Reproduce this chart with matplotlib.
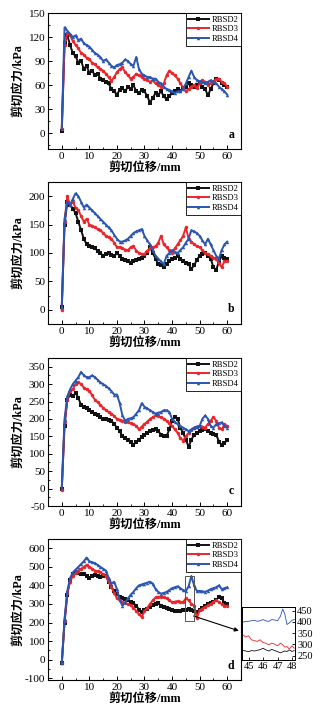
import numpy as np
import matplotlib
matplotlib.use("Agg")
import matplotlib.pyplot as plt
from matplotlib.patches import Rectangle
from matplotlib.ticker import MultipleLocator

plt.rcParams['font.family'] = ['Liberation Serif', 'Noto Sans CJK SC']
plt.rcParams['axes.unicode_minus'] = False

# shear displacement, mm
disp = list(range(0, 61))

# (a)
a_rbsd2 = [3, 112, 122, 110, 100, 96, 88, 90, 80, 84, 75, 78, 72, 74, 68, 66, 64, 62, 55, 52,
           48, 54, 56, 52, 58, 55, 60, 52, 50, 54, 52, 46, 38, 44, 50, 48, 52, 46, 42, 46,
           50, 52, 55, 52, 56, 58, 62, 60, 57, 60, 62, 58, 55, 47, 55, 62, 68, 66, 63, 60, 58]
a_rbsd3 = [5, 110, 125, 122, 115, 110, 106, 100, 98, 94, 92, 88, 86, 82, 80, 78, 74, 70, 65, 70,
           76, 80, 82, 76, 72, 68, 70, 74, 72, 70, 68, 66, 64, 66, 62, 60, 58, 62, 72, 78,
           75, 72, 68, 62, 57, 52, 55, 58, 60, 56, 62, 66, 64, 60, 62, 65, 67, 68, 64, 62, 58]
a_rbsd4 = [6, 132, 128, 124, 120, 122, 116, 118, 112, 110, 108, 104, 100, 98, 95, 90, 92, 88, 84, 82,
           85, 86, 88, 92, 90, 86, 84, 95, 80, 74, 72, 70, 70, 68, 68, 64, 62, 58, 55, 54,
           52, 50, 52, 52, 55, 62, 70, 78, 70, 66, 65, 64, 62, 64, 66, 64, 62, 58, 55, 52, 48]

# (b)
b_rbsd2 = [5, 150, 190, 185, 178, 170, 155, 140, 125, 115, 112, 110, 108, 104, 100, 95, 98, 100, 96, 94,
           100, 95, 90, 88, 85, 82, 86, 88, 90, 92, 95, 100, 110, 100, 90, 80, 78, 75, 80, 85,
           90, 92, 95, 90, 85, 82, 80, 72, 78, 88, 95, 98, 100, 95, 90, 75, 70, 85, 95, 92, 90]
b_rbsd3 = [0, 155, 200, 185, 190, 180, 175, 165, 155, 160, 150, 148, 145, 142, 140, 135, 130, 128, 125, 118,
           110, 110, 108, 106, 105, 110, 112, 104, 100, 98, 98, 104, 108, 110, 112, 118, 130, 115, 110, 105,
           100, 108, 115, 122, 130, 145, 125, 120, 115, 112, 110, 105, 100, 98, 95, 92, 90, 82, 75, 85, 85]
b_rbsd4 = [5, 160, 190, 185, 195, 205, 200, 190, 180, 185, 180, 175, 170, 165, 160, 155, 150, 145, 140, 132,
           125, 120, 120, 122, 125, 130, 135, 138, 140, 142, 130, 122, 115, 105, 95, 90, 85, 80, 95, 100,
           105, 102, 100, 105, 110, 118, 125, 140, 138, 135, 130, 122, 115, 125, 115, 105, 95, 90, 105, 115, 120]

# (c)
c_rbsd2 = [0, 180, 255, 270, 265, 275, 260, 240, 235, 230, 225, 220, 215, 210, 205, 200, 200, 198, 195, 185,
           175, 165, 150, 145, 140, 135, 125, 135, 140, 148, 155, 160, 165, 168, 170, 165, 155, 150, 150, 170,
           195, 205, 200, 175, 160, 140, 120, 140, 155, 160, 165, 168, 170, 165, 160, 158, 155, 135, 125, 130, 140]
c_rbsd3 = [-3, 190, 255, 280, 285, 300, 305, 300, 290, 285, 280, 268, 255, 248, 240, 232, 225, 220, 215, 208,
           200, 198, 195, 192, 190, 188, 185, 180, 170, 178, 185, 192, 200, 205, 210, 208, 205, 200, 195, 188,
           180, 170, 160, 145, 138, 150, 160, 168, 175, 178, 180, 178, 175, 185, 195, 205, 195, 175, 170, 185, 180]
c_rbsd4 = [3, 200, 265, 285, 300, 310, 320, 335, 325, 320, 320, 325, 320, 312, 305, 300, 295, 288, 280, 270,
           270, 245, 210, 195, 200, 202, 205, 215, 225, 245, 235, 230, 225, 220, 215, 218, 220, 225, 225, 220,
           200, 192, 185, 180, 175, 170, 165, 170, 175, 178, 180, 200, 210, 200, 180, 175, 185, 188, 190, 180, 175]

# (d)
d_rbsd2 = [-20, 200, 350, 430, 460, 470, 465, 462, 460, 450, 440, 448, 455, 450, 445, 448, 450, 420, 390, 370,
           355, 340, 330, 325, 320, 312, 305, 290, 270, 255, 265, 275, 285, 292, 300, 305, 290, 285, 280, 272,
           265, 262, 260, 262, 265, 270, 275, 265, 260, 255, 270, 280, 290, 298, 305, 312, 320, 340, 330, 305, 300]
d_rbsd3 = [-20, 210, 360, 420, 450, 465, 480, 490, 500, 510, 500, 490, 480, 475, 470, 460, 450, 420, 390, 360,
           330, 320, 310, 305, 300, 292, 280, 262, 245, 230, 260, 280, 300, 320, 335, 338, 340, 335, 330, 320,
           310, 312, 315, 312, 310, 330, 320, 300, 290, 225, 265, 275, 285, 292, 300, 310, 320, 310, 300, 290, 290]
d_rbsd4 = [-20, 220, 370, 440, 470, 485, 500, 515, 530, 550, 530, 525, 520, 510, 500, 490, 480, 440, 410, 420,
           380, 320, 290, 310, 330, 350, 365, 385, 400, 405, 410, 415, 420, 410, 380, 365, 355, 360, 365, 375,
           385, 390, 395, 385, 375, 370, 395, 450, 400, 370, 370, 368, 365, 372, 380, 385, 390, 400, 380, 385, 390]

# zoomed window of (d), 44.6-48.2 mm
zoom_x = [44.6, 44.8, 45.0, 45.2, 45.4, 45.6, 45.8, 46.0, 46.2, 46.4,
          46.6, 46.8, 47.0, 47.2, 47.35, 47.5, 47.65, 47.8, 48.0, 48.15]
zoom_rbsd2 = [273, 270, 267, 272, 270, 273, 276, 282, 275, 270, 277, 272, 267, 262, 266, 270, 268, 275, 268, 272]
zoom_rbsd3 = [343, 332, 338, 320, 316, 313, 320, 308, 304, 298, 305, 300, 293, 305, 298, 287, 290, 279, 293, 282]
zoom_rbsd4 = [398, 402, 402, 405, 407, 402, 405, 410, 404, 402, 410, 408, 405, 425, 457, 433, 388, 395, 407, 410]

names = ['RBSD2', 'RBSD3', 'RBSD4']
colors = ['#111111', '#e8262b', '#2a55b0']
markers = ['s', 'o', '^']

panels = [
    ('a', [a_rbsd2, a_rbsd3, a_rbsd4], (-20, 150), 30, [0.1459, 0.7895, 0.5866, 0.1921]),
    ('b', [b_rbsd2, b_rbsd3, b_rbsd4], (-25, 225), 50, [0.1459, 0.5424, 0.5866, 0.2006]),
    ('c', [c_rbsd2, c_rbsd3, c_rbsd4], (-50, 375), 50, [0.1459, 0.2853, 0.5866, 0.2091]),
    ('d', [d_rbsd2, d_rbsd3, d_rbsd4], (-110, 650), 100, [0.1459, 0.0395, 0.5866, 0.1992]),
]

fig = plt.figure(figsize=(3.29, 7.08), dpi=100)

axes = []
for tag, series, ylim, ystep, rect in panels:
    ax = fig.add_axes(rect)
    for vals, name, col, mk in zip(series, names, colors, markers):
        ax.plot(disp, vals, color=col, lw=1.4, marker=mk, ms=2.5, mew=0, label=name)
    ax.set_xlim(-5, 65)
    ax.set_ylim(*ylim)
    ax.xaxis.set_major_locator(MultipleLocator(10))
    ax.xaxis.set_minor_locator(MultipleLocator(5))
    ax.yaxis.set_major_locator(MultipleLocator(ystep))
    ax.yaxis.set_minor_locator(MultipleLocator(ystep / 2))
    ax.tick_params(which='both', direction='in', labelsize=8, pad=2)
    ax.tick_params(which='major', length=3, width=0.7)
    ax.tick_params(which='minor', length=1.6, width=0.6)
    for sp in ax.spines.values():
        sp.set_linewidth(0.8)
    ax.set_xlabel('剪切位移/mm', fontsize=8.8, fontweight='bold', labelpad=1)
    ax.set_ylabel('剪切应力/kPa', fontsize=8.8, fontweight='bold')
    ax.yaxis.set_label_coords(-0.125, 0.5)
    ax.text(0.965, 0.06, tag, transform=ax.transAxes, fontsize=8.5, fontweight='bold',
            ha='right', va='bottom')
    leg = ax.legend(loc='upper right', fontsize=6.2, borderaxespad=0, handlelength=2.4,
                    handletextpad=0.3, labelspacing=0.2, borderpad=0.3,
                    fancybox=False, framealpha=1, edgecolor='black')
    leg.get_frame().set_linewidth(0.6)
    axes.append(ax)

ax_d = axes[3]
ax_d.add_patch(Rectangle((44.6, 210), 3.2, 240, fill=False, edgecolor='#555555', lw=0.7, zorder=5))

# enlarged view of the boxed window
ins = fig.add_axes([0.7356, 0.0678, 0.1611, 0.0749])
for vals, col in zip([zoom_rbsd2, zoom_rbsd3, zoom_rbsd4], colors):
    ins.plot(zoom_x, vals, color=col, lw=0.6)
ins.set_xlim(44.55, 48.2)
ins.set_ylim(230, 466)
ins.xaxis.set_major_locator(MultipleLocator(1))
ins.yaxis.set_major_locator(MultipleLocator(50))
ins.yaxis.tick_right()
ins.tick_params(direction='in', labelsize=7.5, length=2, width=0.6, pad=1.5)
for sp in ins.spines.values():
    sp.set_linewidth(0.7)

ax_d.annotate('', xy=(-0.06, 0.55), xycoords=ins.transAxes,
              xytext=(47.8, 235), textcoords='data',
              arrowprops=dict(arrowstyle='-|>', color='black', lw=0.8,
                              mutation_scale=6, shrinkA=0, shrinkB=0),
              annotation_clip=False)

fig.savefig('out.png', dpi=100)
